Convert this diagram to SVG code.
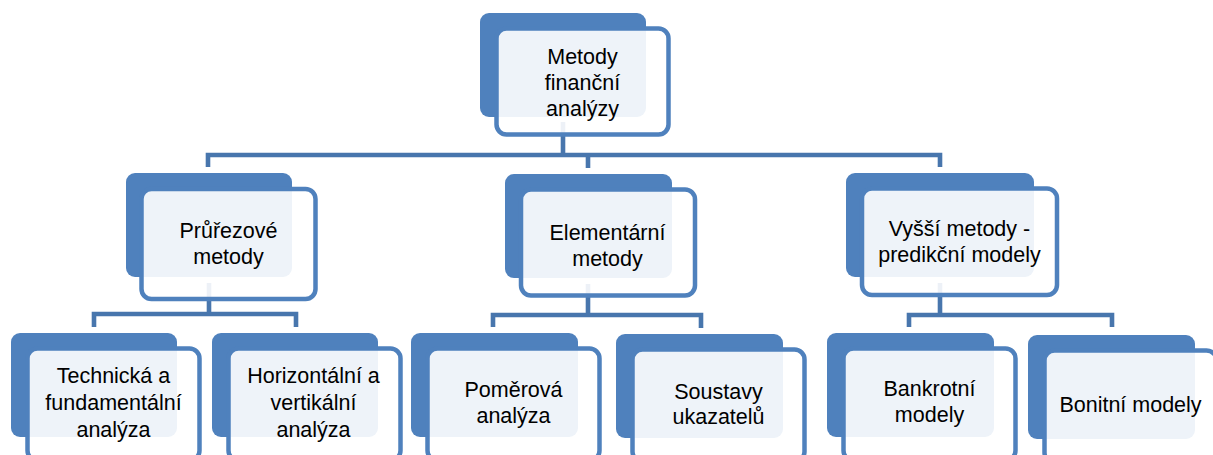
<svg xmlns="http://www.w3.org/2000/svg" width="1213" height="455" viewBox="0 0 1213 455">
<style>
.bg{fill:#ffffff}
.back{fill:#4F81BD}
.front{fill:#ffffff;fill-opacity:0.9;stroke:#4F81BD;stroke-width:4.5}
.conn{fill:none;stroke:#4876AD;stroke-width:4.6;stroke-linejoin:miter}
.t{font-family:"Liberation Sans",Arial,sans-serif;font-size:21.5px;fill:#000000;text-anchor:middle}
</style>
<rect class="bg" x="0" y="0" width="1213" height="455"/>
<g id="connectors">
  <path class="conn" d="M563 122 V155 M208 167 V155 H940 V167 M588 155 V168"/>
  <path class="conn" d="M209 283 V314 M94 327 V314 H296 V327"/>
  <path class="conn" d="M588 284 V315 M493 327 V315 H701 V328"/>
  <path class="conn" d="M940 283 V315 M909 327 V315 H1112 V327"/>
</g>
<g id="node-root">
  <rect class="back" x="480" y="13" width="166" height="104" rx="9"/>
  <rect class="front" x="496.5" y="28.5" width="172" height="106" rx="10"/>
  <text class="t" x="582.5" y="64">Metody</text>
  <text class="t" x="582.5" y="90">finanční</text>
  <text class="t" x="582.5" y="116">analýzy</text>
</g>
<g id="node-prurezove">
  <rect class="back" x="126" y="173" width="166" height="104" rx="9"/>
  <rect class="front" x="141.5" y="189" width="174" height="110" rx="10"/>
  <text class="t" x="228.5" y="238">Průřezové</text>
  <text class="t" x="228.5" y="264">metody</text>
</g>
<g id="node-elementarni">
  <rect class="back" x="505" y="174" width="167" height="104" rx="9"/>
  <rect class="front" x="521" y="189.5" width="174" height="106" rx="10"/>
  <text class="t" x="607.5" y="240">Elementární</text>
  <text class="t" x="607.5" y="266">metody</text>
</g>
<g id="node-vyssi">
  <rect class="back" x="846" y="173" width="188" height="104" rx="9"/>
  <rect class="front" x="862" y="188.5" width="195" height="106.5" rx="10"/>
  <text class="t" x="959.5" y="236">Vyšší metody -</text>
  <text class="t" x="959.5" y="262">predikční modely</text>
</g>
<g id="node-technicka">
  <rect class="back" x="11" y="333" width="166" height="104" rx="9"/>
  <rect class="front" x="27.5" y="348.5" width="172" height="112" rx="10"/>
  <text class="t" x="113.5" y="383">Technická a</text>
  <text class="t" x="113.5" y="410">fundamentální</text>
  <text class="t" x="113.5" y="437">analýza</text>
</g>
<g id="node-horizontalni">
  <rect class="back" x="212" y="333" width="166" height="104" rx="9"/>
  <rect class="front" x="228.5" y="348.5" width="172" height="112" rx="10"/>
  <text class="t" x="313.5" y="383">Horizontální a</text>
  <text class="t" x="313.5" y="410">vertikální</text>
  <text class="t" x="313.5" y="437">analýza</text>
</g>
<g id="node-pomerova">
  <rect class="back" x="411" y="333" width="167" height="104" rx="9"/>
  <rect class="front" x="427.5" y="348.5" width="172" height="112" rx="10"/>
  <text class="t" x="513.5" y="397">Poměrová</text>
  <text class="t" x="513.5" y="423">analýza</text>
</g>
<g id="node-soustavy">
  <rect class="back" x="616" y="334" width="167" height="104" rx="9"/>
  <rect class="front" x="632.5" y="349.5" width="172" height="112" rx="10"/>
  <text class="t" x="718.5" y="399">Soustavy</text>
  <text class="t" x="718.5" y="424">ukazatelů</text>
</g>
<g id="node-bankrotni">
  <rect class="back" x="827" y="333" width="167" height="104" rx="9"/>
  <rect class="front" x="843.5" y="348.5" width="172" height="112" rx="10"/>
  <text class="t" x="929.5" y="396">Bankrotní</text>
  <text class="t" x="929.5" y="422">modely</text>
</g>
<g id="node-bonitni">
  <rect class="back" x="1028" y="335" width="167" height="104" rx="9"/>
  <rect class="front" x="1044.5" y="350.5" width="172" height="112" rx="10"/>
  <text class="t" x="1130.5" y="412">Bonitní modely</text>
</g>
</svg>
